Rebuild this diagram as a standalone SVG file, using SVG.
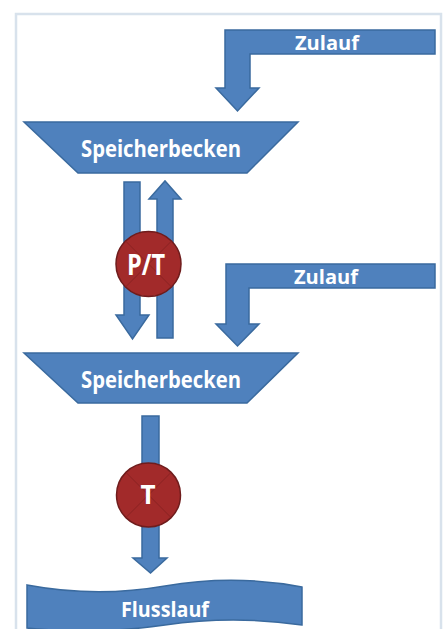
<svg xmlns="http://www.w3.org/2000/svg" width="445" height="629" viewBox="0 0 445 629">
<style>
.b{fill:#4f81bd;stroke:#3a6a9e;stroke-width:1.5;stroke-linejoin:miter}
.c{fill:#a22a2a;stroke:#6f1c1c;stroke-width:1.5}
.x{stroke:#8a2222;stroke-width:1}
.t{fill:#ffffff;font-family:"Open Sans","Liberation Sans",sans-serif;font-weight:bold;text-anchor:middle}
</style>
<rect x="0" y="0" width="445" height="629" fill="#ffffff"/>
<rect x="16" y="14" width="425" height="640" fill="none" stroke="#d8e2ec" stroke-width="2.5"/>
<g id="connectors">
<path class="b" d="M124 182 L140 182 L140 315 L149 315 L132.5 339 L116 315 L124 315 Z"/>
<path class="b" d="M157 338 L157 199 L149 199 L165 181 L181 199 L173 199 L173 338 Z"/>
<path class="b" d="M142 416 L159 416 L159 558 L167 558 L150.5 573 L133 558 L142 558 Z"/>
</g>
<g id="zulauf1">
<path class="b" d="M435 30 L225 30 L225 88 L216 88 L237.5 111 L259 88 L250 88 L250 54 L435 54 Z"/>
<text class="t" x="327" y="50" font-size="20" textLength="64" lengthAdjust="spacingAndGlyphs">Zulauf</text>
</g>
<g id="zulauf2">
<path class="b" d="M435 264 L226 264 L226 324 L216 324 L237.5 346 L259 324 L249 324 L249 288 L435 288 Z"/>
<text class="t" x="326" y="284" font-size="20" textLength="64" lengthAdjust="spacingAndGlyphs">Zulauf</text>
</g>
<g id="speicher1">
<path class="b" d="M24 122 L298 122 L247 173 L78 173 Z"/>
<text class="t" x="161" y="157" font-size="23" textLength="160" lengthAdjust="spacingAndGlyphs">Speicherbecken</text>
</g>
<g id="speicher2">
<path class="b" d="M24 353 L298 353 L247 403 L78 403 Z"/>
<text class="t" x="161" y="388" font-size="23" textLength="160" lengthAdjust="spacingAndGlyphs">Speicherbecken</text>
</g>
<g id="pt">
<circle class="c" cx="148.5" cy="264" r="32.5"/>
<path class="x" d="M125.5 241 L171.5 287 M171.5 241 L125.5 287"/>
<text class="t" x="146" y="275" font-size="28" textLength="38" lengthAdjust="spacingAndGlyphs">P/T</text>
</g>
<g id="turbine">
<circle class="c" cx="148.5" cy="495" r="32"/>
<path class="x" d="M125.9 472.4 L171.1 517.6 M171.1 472.4 L125.9 517.6"/>
<text class="t" x="148" y="504" font-size="26">T</text>
</g>
<g id="flusslauf">
<path class="b" d="M27 585 Q96 598 165 586 T302 587 L302 625 Q233 615 165 625 T27 628 Z"/>
<text class="t" x="165" y="617" font-size="21" textLength="88" lengthAdjust="spacingAndGlyphs">Flusslauf</text>
</g>
</svg>
